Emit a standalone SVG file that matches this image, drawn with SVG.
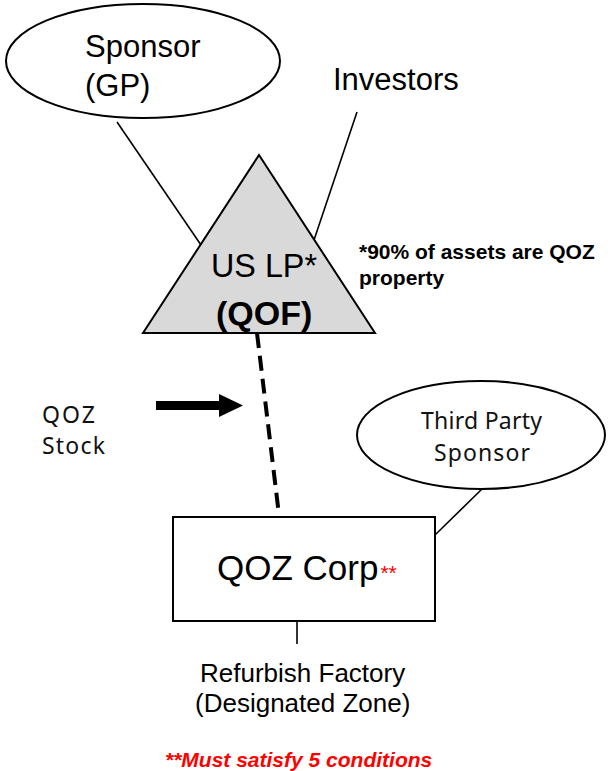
<svg xmlns="http://www.w3.org/2000/svg" width="608" height="771" viewBox="0 0 608 771">
  <defs>
    <style>
      .shape { fill: #ffffff; stroke: #000000; stroke-width: 2; }
      .link { fill: none; stroke: #000000; stroke-width: 1.6; }
      .arial { font-family: "Liberation Sans", Arial, sans-serif; fill: #000000; }
      .soft { font-family: "Noto Sans", "Open Sans", sans-serif; fill: #111111; }
      .red { fill: #ff0000; }
    </style>
  </defs>
  <rect width="608" height="771" fill="#ffffff"/>

  <!-- connectors -->
  <g id="connectors">
    <line class="link" x1="117" y1="122" x2="201" y2="245"/>
    <line class="link" x1="357" y1="112" x2="313" y2="243"/>
    <line x1="257" y1="333" x2="279" y2="515" stroke="#000000" stroke-width="4" stroke-dasharray="15 8" fill="none"/>
    <line class="link" x1="482" y1="489" x2="435" y2="535"/>
    <line class="link" x1="297" y1="621" x2="297" y2="644"/>
    <!-- QOZ stock flow arrow -->
    <g id="stock-arrow">
      <rect x="156" y="401" width="64" height="9" fill="#000000"/>
      <polygon points="219,394 243,405.5 219,417" fill="#000000"/>
    </g>
  </g>

  <g id="sponsor-gp">
    <ellipse class="shape" cx="143" cy="61" rx="137" ry="57"/>
    <text class="arial" x="85" y="57" font-size="31">Sponsor</text>
    <text class="arial" x="85" y="96" font-size="31">(GP)</text>
  </g>

  <g id="investors">
    <text class="arial" x="333" y="90" font-size="31">Investors</text>
  </g>

  <g id="us-lp">
    <polygon points="259,155 375,333 143,333" fill="#d9d9d9" stroke="#000000" stroke-width="2" stroke-linejoin="miter"/>
    <text class="arial" x="211" y="277" font-size="33" textLength="106" lengthAdjust="spacingAndGlyphs">US LP*</text>
    <text class="arial" x="216" y="325" font-size="34" font-weight="bold">(QOF)</text>
  </g>

  <g id="qof-note">
    <text class="arial" x="359" y="259" font-size="21" font-weight="bold">*90% of assets are QOZ</text>
    <text class="arial" x="359" y="285" font-size="21" font-weight="bold">property</text>
  </g>

  <g id="qoz-stock">
    <text class="soft" x="42" y="423" font-size="23" textLength="53" lengthAdjust="spacing">QOZ</text>
    <text class="soft" x="42" y="454" font-size="23" textLength="63" lengthAdjust="spacing">Stock</text>
  </g>

  <g id="third-party-sponsor">
    <ellipse class="shape" cx="481" cy="435" rx="124" ry="54"/>
    <text class="soft" x="421" y="429" font-size="23" textLength="121" lengthAdjust="spacing">Third Party</text>
    <text class="soft" x="434" y="461" font-size="23" textLength="96" lengthAdjust="spacing">Sponsor</text>
  </g>

  <g id="qoz-corp">
    <rect class="shape" x="173" y="517" width="262" height="104"/>
    <text class="arial" x="217" y="580" font-size="35">QOZ Corp<tspan class="red" font-size="21" dx="2">**</tspan></text>
  </g>

  <g id="refurbish-factory">
    <text class="arial" x="200" y="682" font-size="26">Refurbish Factory</text>
    <text class="arial" x="195" y="712" font-size="26">(Designated Zone)</text>
  </g>

  <g id="conditions-note">
    <text class="arial red" x="165" y="767" font-size="21" font-weight="bold" font-style="italic">**Must satisfy 5 conditions</text>
  </g>
</svg>
